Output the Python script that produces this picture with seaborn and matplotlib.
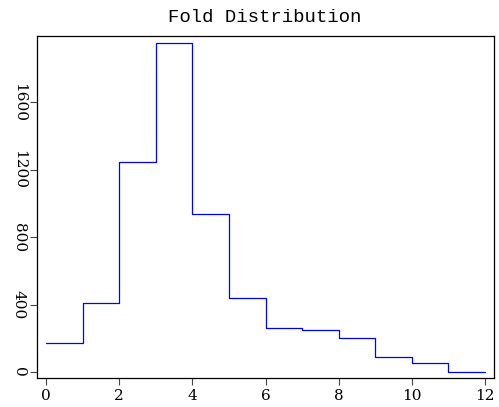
import numpy as np
import pandas as pd
import seaborn as sns
import matplotlib
matplotlib.use("Agg")
import matplotlib.pyplot as plt

# Fold counts per unit-wide bin, from fold 0 up to fold 12
bin_edges = [0, 1, 2, 3, 4, 5, 6, 7, 8, 9, 10, 11, 12]
fold_counts = [170, 408, 1248, 1954, 938, 441, 263, 251, 200, 89, 52, 2]
x_ticks = [0, 2, 4, 6, 8, 10, 12]
y_ticks = [0, 400, 800, 1200, 1600]

centers = [(a + b) / 2 for a, b in zip(bin_edges[:-1], bin_edges[1:])]
df = pd.DataFrame({"fold": centers, "count": fold_counts})

sns.set_theme(style="ticks")
plt.rcParams["font.family"] = ["DejaVu Serif"]

fig = plt.figure(figsize=(4.99, 4.07), dpi=100)
ax = fig.add_axes([37 / 499, 1 - 378 / 407, (494 - 37) / 499, (378 - 36) / 407])

sns.histplot(data=df, x="fold", weights="count", bins=bin_edges,
             element="step", fill=False, color="#0000ff", linewidth=0.9, ax=ax)

ax.set_xlim(-0.246, 12.246)
ax.set_ylim(-36, 1994)
ax.set_xticks(x_ticks)
ax.set_yticks(y_ticks)
ax.set_xlabel("")
ax.set_ylabel("")
ax.tick_params(axis="both", direction="out", length=5, width=0.8, color="#444444",
               labelsize=11, labelcolor="black", pad=3)
for lbl in ax.get_yticklabels():
    lbl.set_rotation(-90)
    lbl.set_va("center")
for s in ax.spines.values():
    s.set_visible(True)
    s.set_color("black")
    s.set_linewidth(0.9)

fig.suptitle("Fold Distribution", x=265 / 499, y=1 - 18 / 407, va="center",
             fontsize=13.7, color="black", family=["Liberation Mono", "DejaVu Sans Mono"])

fig.savefig("out.png", dpi=100)
